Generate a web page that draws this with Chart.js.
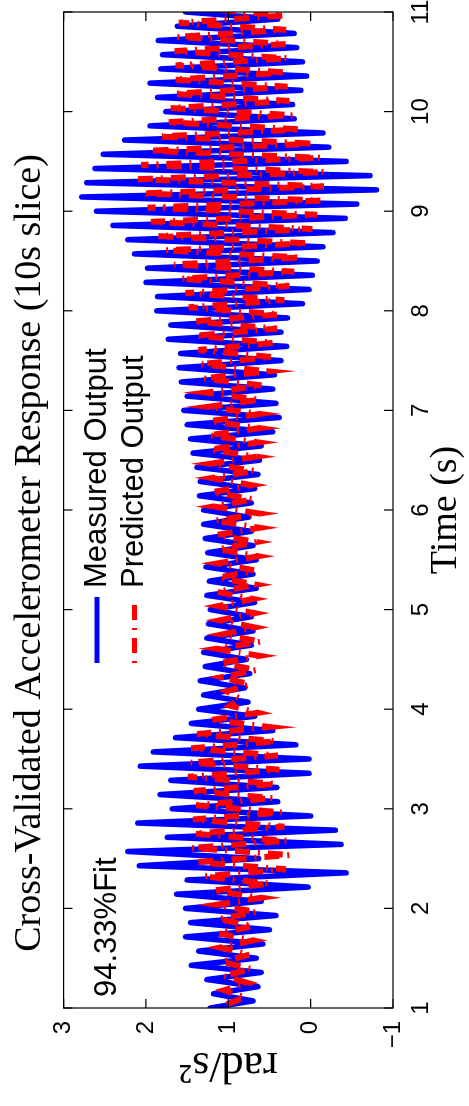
<!DOCTYPE html>
<html>
<head>
<meta charset="utf-8">
<title>Cross-Validated Accelerometer Response</title>
<script src="https://cdn.jsdelivr.net/npm/chart.js@4.4.1/dist/chart.umd.min.js"></script>
<style>
  html, body { margin: 0; padding: 0; background: #fff; }
  body { width: 469px; height: 1106px; overflow: hidden; position: relative; }
  /* the figure is drawn landscape, then turned a quarter turn to the left */
  #turn { position: absolute; left: 0; top: 0; width: 1106px; height: 469px;
          transform-origin: 0 0; transform: translate(0, 1106px) rotate(-90deg); }
</style>
</head>
<body>
<div id="turn"><canvas id="accelChart" width="1106" height="469"></canvas></div>
<script>
// one extreme every 1/14 s, from t = 1 s
const startTime = 1;
const sampleStep = 1 / 14;
const timeTicks = [1, 2, 3, 4, 5, 6, 7, 8, 9, 10, 11];
const valueTicks = [-1, 0, 1, 2, 3];

// measured accelerometer output (rad/s^2), peaks and troughs
const measured = [
    1.22, 0.7, 1.18, 0.64, 1.26, 0.6, 1.45, 0.66, 1.36, 0.58, 1.52, 0.5, 1.46, 0.42,
    1.52, 0.6, 1.63, 0.03, 1.5, -0.43, 2.08, 0.63, 2.22, -0.37, 1.74, -0.3, 2.1, 0.0,
    1.68, 0.4, 1.83, 0.41, 1.7, 0.02, 2.07, 0.02, 1.91, 0.18, 1.64, 0.46, 1.45, 0.68,
    1.36, 0.76, 1.3, 0.8, 1.34, 0.74, 1.28, 0.78, 1.3, 0.72, 1.26, 0.7, 1.24, 0.72,
    1.22, 0.68, 1.26, 0.66, 1.23, 0.7, 1.27, 0.66, 1.25, 0.7, 1.28, 0.72, 1.3, 0.75,
    1.3, 0.72, 1.35, 0.68, 1.34, 0.64, 1.38, 0.62, 1.43, 0.6, 1.46, 0.46, 1.5, 0.38,
    1.54, 0.42, 1.5, 0.46, 1.57, 0.44, 1.6, 0.36, 1.58, 0.29, 1.73, 0.36, 1.7, 0.28,
    1.87, 0.1, 1.86, 0.02, 2.0, -0.02, 1.98, -0.08, 2.14, -0.15, 2.22, -0.27, 2.4, -0.42,
    2.6, -0.56, 2.78, -0.8, 2.72, -0.72, 2.62, -0.43, 2.52, -0.22, 2.26, -0.15, 1.95, 0.2,
    1.76, 0.22, 1.86, 0.12, 1.95, 0.05, 1.82, 0.1, 1.8, 0.17, 1.85, 0.2, 1.62, 0.4,
    1.52
];

// model prediction, same sampling but half a step later
const predicted = [
    1.02, 0.8, 1.05, 0.76, 1.06, 0.72, 1.08, 0.74, 1.1, 0.7, 1.12, 0.7, 1.12, 0.66,
    1.15, 0.6, 1.19, 0.5, 1.3, 0.3, 1.4, 0.25, 1.45, 0.29, 1.42, 0.32, 1.43, 0.35,
    1.39, 0.46, 1.42, 0.42, 1.49, 0.38, 1.46, 0.4, 1.45, 0.42, 1.38, 0.5, 1.2, 0.64,
    0.98, 0.86, 1.02, 0.74, 1.08, 0.66, 1.1, 0.62, 1.14, 0.6, 1.08, 0.68, 1.1, 0.68,
    1.12, 0.7, 1.14, 0.66, 1.12, 0.68, 1.13, 0.64, 1.12, 0.66, 1.14, 0.62, 1.16, 0.62,
    1.18, 0.7, 1.2, 0.72, 1.2, 0.68, 1.22, 0.66, 1.22, 0.64, 1.24, 0.62, 1.22, 0.62,
    1.25, 0.62, 1.27, 0.58, 1.3, 0.52, 1.34, 0.47, 1.36, 0.45, 1.4, 0.41, 1.43, 0.38,
    1.48, 0.32, 1.52, 0.26, 1.58, 0.2, 1.66, 0.12, 1.76, 0.05, 1.85, -0.02, 1.94, -0.08,
    1.98, -0.12, 2.04, -0.16, 2.1, -0.17, 2.06, -0.12, 1.96, -0.04, 1.85, 0.12, 1.74, 0.22,
    1.7, 0.26, 1.67, 0.28, 1.66, 0.3, 1.64, 0.28, 1.65, 0.3, 1.62, 0.3, 1.6, 0.32,
    1.3
];

const fitText = '94.33%Fit';

const measuredTime = measured.map((v, i) => startTime + i * sampleStep);
const predictedTime = predicted.map((v, i) => startTime + (i + 0.5) * sampleStep);

const sansFont = "'Liberation Sans', Arial, Helvetica, sans-serif";
const serifFont = "'Liberation Serif', 'Times New Roman', serif";

// box, inward ticks, legend and fit label, MATLAB style
const matlabFrame = {
    id: 'matlabFrame',
    afterDatasetsDraw(chart) {
        const { ctx, chartArea: a, scales } = chart;
        const tickLen = 9;
        ctx.save();
        ctx.strokeStyle = '#000';
        ctx.lineWidth = 1.2;
        ctx.setLineDash([]);
        ctx.strokeRect(a.left, a.top, a.right - a.left, a.bottom - a.top);
        ctx.beginPath();
        timeTicks.forEach(t => {
            const px = scales.x.getPixelForValue(t);
            ctx.moveTo(px, a.bottom); ctx.lineTo(px, a.bottom - tickLen);
            ctx.moveTo(px, a.top); ctx.lineTo(px, a.top + tickLen);
        });
        valueTicks.forEach(v => {
            const py = scales.y.getPixelForValue(v);
            ctx.moveTo(a.left, py); ctx.lineTo(a.left + tickLen, py);
            ctx.moveTo(a.right, py); ctx.lineTo(a.right - tickLen, py);
        });
        ctx.stroke();

        // legend, no box
        const lineStart = a.left + 345;
        const lineEnd = a.left + 411;
        const rows = [a.top + 33.5, a.top + 71];
        ctx.font = '31px ' + sansFont;
        ctx.textBaseline = 'middle';
        ctx.textAlign = 'left';
        chart.data.datasets.forEach(ds => {
            const rowY = rows[ds.legendRow];
            ctx.save();
            ctx.strokeStyle = ds.borderColor;
            ctx.lineWidth = 5;
            ctx.lineCap = 'butt';
            ctx.setLineDash(ds.borderDash || []);
            ctx.lineDashOffset = ds.borderDash ? 23 : 0;
            ctx.beginPath();
            ctx.moveTo(lineStart, rowY);
            ctx.lineTo(lineEnd, rowY);
            ctx.stroke();
            ctx.restore();
            ctx.fillStyle = '#000';
            ctx.fillText(ds.label, lineEnd + 9, rowY);
        });

        ctx.textBaseline = 'alphabetic';
        ctx.fillText(fitText, a.left + 11, a.top + 52);
        ctx.restore();
    }
};

new Chart(document.getElementById('accelChart'), {
    type: 'line',
    data: {
        datasets: [{
            label: 'Predicted Output',
            legendRow: 1,
            data: predicted.map((v, i) => ({ x: predictedTime[i], y: v })),
            borderColor: '#ff0000',
            borderWidth: 6,
            borderDash: [15, 8, 2, 8],
            borderCapStyle: 'butt',
            borderJoinStyle: 'miter',
            pointRadius: 0,
            tension: 0,
            fill: false,
            clip: 0,
            order: 0
        }, {
            label: 'Measured Output',
            legendRow: 0,
            data: measured.map((v, i) => ({ x: measuredTime[i], y: v })),
            borderColor: '#0000ff',
            borderWidth: 5.5,
            borderCapStyle: 'round',
            borderJoinStyle: 'round',
            pointRadius: 0,
            tension: 0,
            fill: false,
            clip: 0,
            order: 1
        }]
    },
    options: {
        responsive: false,
        animation: false,
        devicePixelRatio: 1,
        layout: { padding: 0 },
        plugins: {
            legend: { display: false },
            tooltip: { enabled: false },
            title: {
                display: true,
                text: 'Cross-Validated Accelerometer Response (10s slice)',
                color: '#000',
                font: { family: serifFont, size: 38, weight: 'normal', lineHeight: 1.2 },
                padding: { top: 7, bottom: 11 }
            }
        },
        scales: {
            x: {
                type: 'linear',
                min: 1,
                max: 11,
                grid: { display: false },
                border: { display: false },
                ticks: {
                    stepSize: 1,
                    color: '#000',
                    padding: 6,
                    maxRotation: 0,
                    font: { family: sansFont, size: 24 }
                },
                title: {
                    display: true,
                    text: 'Time (s)',
                    color: '#000',
                    font: { family: serifFont, size: 38, lineHeight: 1.2 },
                    padding: { top: 0, bottom: 0 }
                },
                afterFit(scale) {
                    scale.height = 76;
                    scale.paddingLeft = 0;
                    scale.paddingRight = 12;
                }
            },
            y: {
                min: -1,
                max: 3,
                grid: { display: false },
                border: { display: false },
                ticks: {
                    stepSize: 1,
                    color: '#000',
                    padding: 5,
                    font: { family: sansFont, size: 24 },
                    callback: v => (v < 0 ? '\u2212' + Math.abs(v) : String(v))
                },
                title: {
                    display: true,
                    text: 'rad/s\u00b2',
                    color: '#000',
                    font: { family: serifFont, size: 44, lineHeight: 1.2 },
                    padding: { top: 15, bottom: 0 }
                },
                afterFit(scale) {
                    scale.width = 98;
                    scale.paddingTop = 0;
                    scale.paddingBottom = 0;
                }
            }
        }
    },
    plugins: [matlabFrame]
});
</script>
</body>
</html>
